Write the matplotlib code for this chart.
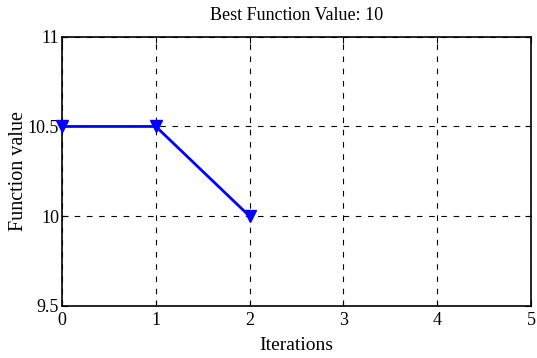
import numpy as np
import matplotlib
matplotlib.use("Agg")
import matplotlib.pyplot as plt

iterations = [0, 1, 2]
values = [10.5, 10.5, 10.0]
x_ticks = [0, 1, 2, 3, 4, 5]
y_ticks = [9.5, 10, 10.5, 11]
y_tick_labels = ["9.5", "10", "10.5", "11"]

plt.rcParams['font.family'] = ['Liberation Serif', 'DejaVu Serif']

fig = plt.figure(figsize=(5.37, 3.58), dpi=100)
ax = fig.add_axes([0.1155, 0.1453, 0.8733, 0.7522])

ax.plot(iterations, values, color='#0000ff', linewidth=2, marker='v',
        markersize=9, clip_on=False, zorder=5)

ax.set_xlim(0, 5)
ax.set_ylim(9.5, 11)
ax.set_xticks(x_ticks)
ax.set_yticks(y_ticks)
ax.set_yticklabels(y_tick_labels)
ax.tick_params(direction='in', length=4, width=0.8, labelsize=13, pad=2,
               top=True, right=True)
ax.tick_params(axis='x', pad=4)
ax.grid(True, color='black', linestyle=(0, (5, 6)), linewidth=0.8)
for s in ax.spines.values():
    s.set_linewidth(1.2)

ax.set_xlabel("Iterations", fontsize=14, labelpad=6)
ax.set_ylabel("Function value", fontsize=14.5, labelpad=0)
ax.set_title("Best Function Value: 10", fontsize=13, pad=12)

fig.savefig("out.png", dpi=100)
